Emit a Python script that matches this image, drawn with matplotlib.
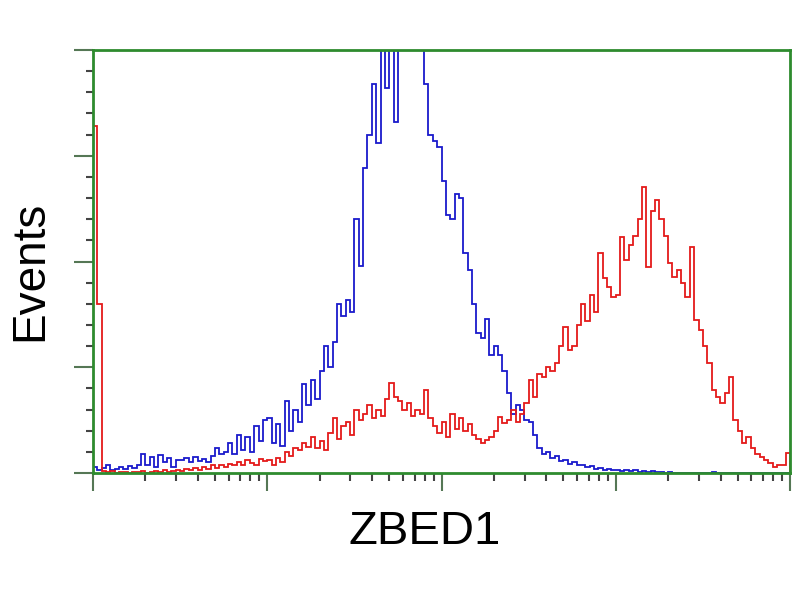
import numpy as np
import matplotlib
matplotlib.use('Agg')
import matplotlib.pyplot as plt

# channel counts, 160 log-spaced channels over 4 decades
blue = [
	15, 8, 12, 18, 7, 10, 14, 9, 16, 11,
	18, 45, 20, 38, 15, 42, 25, 35, 14, 30,
	30, 36, 25, 38, 28, 34, 26, 40, 60, 45,
	50, 70, 45, 90, 55, 85, 50, 110, 75, 125,
	130, 70, 115, 65, 170, 100, 150, 120, 210, 160,
	220, 175, 240, 300, 250, 310, 400, 370, 410, 380,
	600, 490, 720, 800, 920, 780, 1050, 910, 1100, 830,
	1100, 1040, 1150, 1060, 1120, 1010, 920, 800, 785, 770,
	690, 610, 600, 660, 650, 520, 480, 400, 330, 320,
	365, 280, 300, 280, 240, 190, 140, 160, 150, 125,
	120, 90, 60, 45, 50, 35, 40, 28, 30, 22,
	25, 18, 20, 14, 16, 10, 12, 8, 10, 6,
	8, 5, 7, 4, 6, 3, 5, 2, 4, 2,
	3, 1, 2, 0, 1, 0, 0, 1, 0, 0,
	0, 0, 3, 0, 0, 1, 0, 0, 0, 0,
	0, 0, 0, 0, 0, 0, 0, 0, 0, 0,
]
red = [
	820, 400, 5, 2, 4, 1, 3, 2, 0, 3,
	2, 4, 1, 3, 5, 2, 6, 3, 4, 7,
	5, 10, 8, 12, 7, 15, 10, 18, 12, 20,
	15, 22, 18, 26, 20, 30, 24, 20, 32, 28,
	30, 18, 35, 25, 50, 40, 60, 55, 70, 62,
	85, 60, 75, 55, 95, 130, 80, 110, 120, 90,
	150, 125, 140, 160, 130, 150, 135, 175, 213, 180,
	170, 150, 165, 135, 150, 140, 196, 130, 110, 95,
	120, 85, 140, 105, 130, 100, 115, 90, 80, 72,
	78, 85, 100, 132, 118, 125, 150, 120, 140, 165,
	220, 180, 235, 227, 250, 240, 260, 300, 345, 290,
	300, 350, 400, 360, 420, 380, 520, 460, 440, 416,
	420, 558, 503, 540, 560, 600, 676, 487, 620, 645,
	600, 560, 496, 463, 480, 450, 416, 534, 362, 338,
	300, 260, 196, 180, 165, 190, 227, 125, 100, 71,
	85, 60, 45, 38, 31, 24, 14, 20, 18, 47,
]
edges = np.logspace(0, 4, len(blue) + 1)

green = '#2e8b2e'

fig = plt.figure(figsize=(8, 6), dpi=100)
ax = fig.add_axes([93/800, 127/600, 697/800, 423/600])

ax.stairs(blue, edges, color='#1a1acc', lw=1.3)
ax.stairs(red, edges, color='#e41a1a', lw=1.3)

ax.set_xscale('log')
ax.set_xlim(1, 1e4)
ax.set_ylim(0, 1000)
ax.set_yticks(np.linspace(0, 1000, 5))
ax.set_yticks(np.linspace(0, 1000, 21), minor=True)

for s in ax.spines.values():
	s.set_color(green)
	s.set_linewidth(2)

ax.tick_params(axis='y', which='major', length=14, width=1.5, color='#557755', labelleft=False)
ax.tick_params(axis='y', which='minor', length=5, width=1.5, color='#444444')
ax.tick_params(axis='x', which='major', length=13, width=1.5, color='#557755', labelbottom=False)
ax.tick_params(axis='x', which='minor', length=6, width=1.5, color='#444444', labelbottom=False)

fig.text(30/800, 1 - 271/600, 'Events', rotation=90, ha='center', va='center',
	fontsize=33, family='Liberation Sans')
fig.text(425/800, 1 - 532/600, 'ZBED1', ha='center', va='center',
	fontsize=34, family='Liberation Sans')

fig.savefig('out.png', dpi=100)
